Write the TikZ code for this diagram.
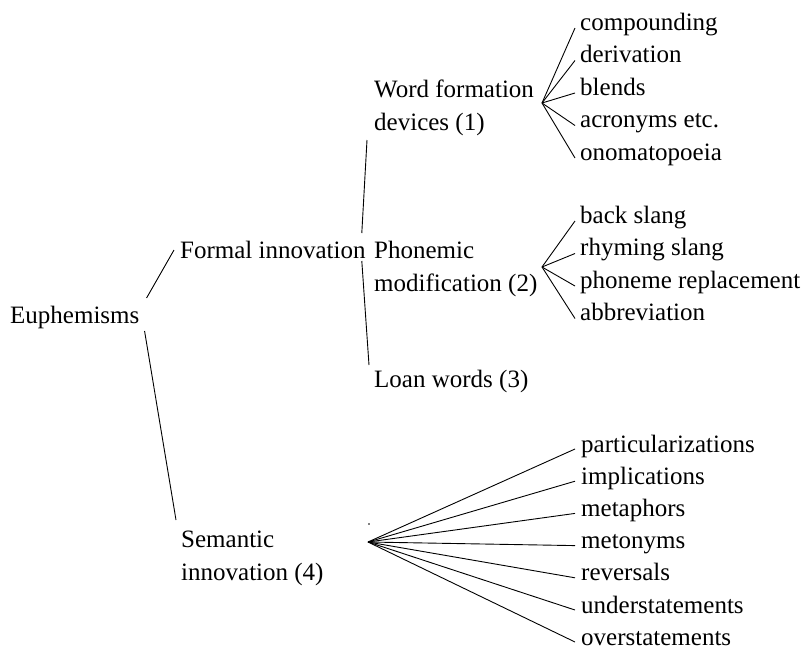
\documentclass[tikz,border=0pt]{standalone}
\usepackage{fontspec}
\setmainfont{Liberation Serif}
\newcommand{\dbline}[2]{\vtop{\baselineskip=33.5pt\hbox{#1}\hbox{#2}}}
\tikzset{
  lbl/.style={inner sep=0pt, anchor=base west, font=\fontsize{25}{32.5}\selectfont},
  conn/.style={line width=0.9pt, draw=black}
}
\begin{document}
\begin{tikzpicture}[x=1pt,y=-1pt]
\useasboundingbox[fill=white] (0,0) rectangle (804,649);
% main nodes
\node[lbl] (eu) at (10,323) {Euphemisms};
\node[lbl] (fi) at (180,258) {Formal innovation};
\node[lbl] (si) at (181,547) {\dbline{Semantic}{innovation (4)}};
\node[lbl] (wf) at (374,97) {\dbline{Word formation}{devices (1)}};
\node[lbl] (pm) at (374,258) {\dbline{Phonemic}{modification (2)}};
\node[lbl] (lw) at (374,387) {Loan words (3)};
% leaves of word formation
\node[lbl] (c1) at (580,30) {compounding};
\node[lbl] (c2) at (580,62.5) {derivation};
\node[lbl] (c3) at (580,95) {blends};
\node[lbl] (c4) at (580,127.5) {acronyms etc.};
\node[lbl] (c5) at (580,160) {onomatopoeia};
% leaves of phonemic modification
\node[lbl] (p1) at (580,223) {back slang};
\node[lbl] (p2) at (580,255.5) {rhyming slang};
\node[lbl] (p3) at (580,288) {phoneme replacement};
\node[lbl] (p4) at (580,320.5) {abbreviation};
% leaves of semantic innovation
\node[lbl] (s1) at (581,452) {particularizations};
\node[lbl] (s2) at (581,484.2) {implications};
\node[lbl] (s3) at (581,516.4) {metaphors};
\node[lbl] (s4) at (581,548.6) {metonyms};
\node[lbl] (s5) at (581,580.8) {reversals};
\node[lbl] (s6) at (581,613) {understatements};
\node[lbl] (s7) at (581,645) {overstatements};
% fan vertices
\coordinate (wfv) at (542,103);
\coordinate (pmv) at (542,267);
\coordinate (siv) at (368,542);
% connectors
\draw[conn] ([xshift=7pt,yshift=25pt]eu.base east) -- ([xshift=-6pt,yshift=8pt]fi.base west);
\draw[conn] ([xshift=5pt,yshift=-8pt]eu.base east) -- ([xshift=-5pt,yshift=27pt]si.base west);
\draw[conn] ([xshift=-4pt,yshift=25pt]fi.base east) -- ([xshift=-7pt,yshift=-43pt]wf.base west);
\draw[conn] ([xshift=-4pt,yshift=-3pt]fi.base east) -- ([xshift=-5pt,yshift=22pt]lw.base west);
\foreach \n in {c1,c2,c3,c4,c5}
  \draw[conn] (wfv) -- ([xshift=-5pt,yshift=2pt]\n.base west);
\foreach \n in {p1,p2,p3,p4}
  \draw[conn] (pmv) -- ([xshift=-5pt,yshift=2pt]\n.base west);
\foreach \n in {s1,s2,s3,s4,s5,s6,s7}
  \draw[conn] (siv) -- ([xshift=-6pt,yshift=3pt]\n.base west);
\fill (369,524) circle (0.8);
\end{tikzpicture}
\end{document}
